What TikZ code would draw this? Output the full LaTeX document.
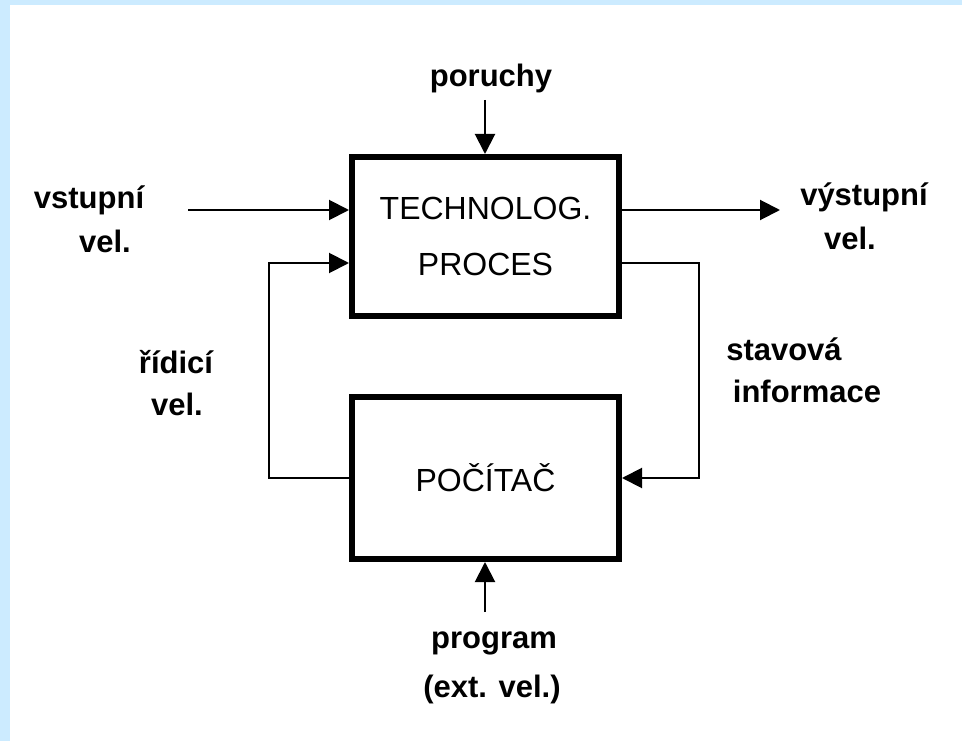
\documentclass[tikz,border=0pt]{standalone}
\usepackage{fontspec}
\setmainfont{Liberation Sans}
\usetikzlibrary{arrows.meta}
\definecolor{frameblue}{RGB}{204,235,255}
\tikzset{
  blockbox/.style={draw=black, line width=6pt, fill=white, inner sep=0pt,
    align=center, font=\fontsize{32}{56}\selectfont},
  lbl/.style={font=\bfseries\fontsize{31}{37}\selectfont, inner sep=0pt, anchor=base},
  flow/.style={draw=black, line width=2pt, -{Triangle[length=20pt,width=20pt]}},
  wire/.style={draw=black, line width=2pt}
}
\begin{document}
\begin{tikzpicture}[x=1pt,y=-1pt]
  % page background with the blue edge on the left and top
  \fill[frameblue] (0,0) rectangle (962,741);
  \fill[white] (10,5) rectangle (962,741);
  \useasboundingbox (0,0) rectangle (962,741);

  % blocks
  \node[blockbox, minimum width=267pt, minimum height=159pt] (tp) at (485.5,236.5)
    {TECHNOLOG.\\PROCES};
  \node[blockbox, minimum width=267pt, minimum height=162pt] (pc) at (485.5,478)
    {POČÍTAČ};

  % labels
  \node[lbl] (lporuchy) at (491,87) {poruchy};
  \node[lbl] (lvst1) at (89,209) {vstupní};
  \node[lbl] (lvst2) at (105,252) {vel.};
  \node[lbl] (lrid1) at (176,373) {řídicí};
  \node[lbl] (lrid2) at (177,415) {vel.};
  \node[lbl] (lvys1) at (864,205) {výstupní};
  \node[lbl] (lvys2) at (850,250) {vel.};
  \node[lbl] (lstav1) at (784,360) {stavová};
  \node[lbl] (lstav2) at (807,402) {informace};
  \node[lbl] (lprog1) at (494,648) {program};
  \node[lbl] (lprog2) at (492,697) {(ext. vel.)};

  % free ends and bends of the connectors
  \coordinate (din) at (485,100);
  \coordinate (vin) at (188,210);
  \coordinate (vout) at (780,210);
  \coordinate (lc) at (269,263);
  \coordinate (rc) at (699,263);
  \coordinate (pin) at (485,612);

  % connectors
  \draw[flow] (din) -- (din |- tp.north);
  \draw[flow] (vin) -- (vin -| tp.west);
  \draw[flow] (vout -| tp.east) -- (vout);
  \draw[flow] (pc.west) -| (lc) -- (lc -| tp.west);
  \draw[flow] (rc -| tp.east) -- (rc) |- (pc.east);
  \draw[flow] (pin) -- (pin |- pc.south);
\end{tikzpicture}
\end{document}
